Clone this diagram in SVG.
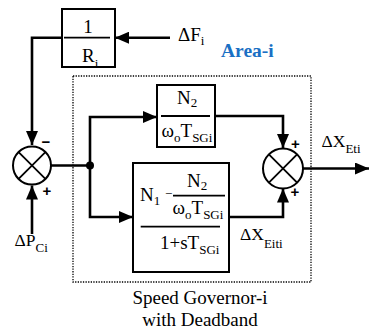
<svg xmlns="http://www.w3.org/2000/svg" width="369" height="331" viewBox="0 0 369 331">
<style>
.box{fill:#fff;stroke:#000;stroke-width:2}
.ln{fill:none;stroke:#000;stroke-width:2.6}
.fl{stroke:#000;stroke-width:1.8}
.t{font-family:'Liberation Serif','Times New Roman','DejaVu Serif',serif;font-size:19px;fill:#000}
.m{font-size:17.5px}
.s{font-size:13px}
.sg{font-family:'Liberation Sans',Arial,sans-serif;font-weight:bold;font-size:15px;fill:#000}
.sum{fill:#fff;stroke:#000;stroke-width:2}
.x{stroke:#000;stroke-width:1.8}
.area{font-family:'Liberation Serif','Times New Roman','DejaVu Serif',serif;font-weight:bold;font-size:19.5px;fill:#1a6fc4}
</style>
<defs>
<marker id="ah" viewBox="0 0 14 12" refX="14" refY="6" markerWidth="14" markerHeight="12" markerUnits="userSpaceOnUse" orient="auto">
<path d="M0,0 L14,6 L0,12 Z" fill="#000"/>
</marker>
</defs>
<rect x="73" y="76" width="238" height="206" fill="none" stroke="#000" stroke-width="1.3" stroke-dasharray="1.3 1.3"/>
<g id="connectors">
<path class="ln" d="M170,37.7 H115" marker-end="url(#ah)"/>
<path class="ln" d="M62,37.7 H32 V145" marker-end="url(#ah)"/>
<path class="ln" d="M32,234 V185.5" marker-end="url(#ah)"/>
<path class="ln" d="M51,165.5 H90"/>
<path class="ln" d="M90,165.5 V117 H157" marker-end="url(#ah)"/>
<path class="ln" d="M90,165.5 V217 H133" marker-end="url(#ah)"/>
<path class="ln" d="M215,116 H283 V148" marker-end="url(#ah)"/>
<path class="ln" d="M229,217 H283 V188.5" marker-end="url(#ah)"/>
<path class="ln" d="M303,168.5 H369" marker-end="url(#ah)"/>
<circle cx="90" cy="165.5" r="4" fill="#000"/>
</g>
<g id="gain-R">
<rect class="box" x="62" y="9" width="53" height="58"/>
<line class="fl" x1="64" y1="37.7" x2="110" y2="37.7"/>
<text class="t" x="88" y="33" text-anchor="middle">1</text>
<text class="t" x="82" y="62">R<tspan class="s" dy="5.5">i</tspan></text>
</g>
<g id="sum-left">
<circle class="sum" cx="32" cy="165.5" r="19"/>
<line class="x" x1="18.6" y1="152.1" x2="45.4" y2="178.9"/>
<line class="x" x1="45.4" y1="152.1" x2="18.6" y2="178.9"/>
<text class="sg" x="46" y="147" text-anchor="middle">−</text>
<text class="sg" x="47" y="196" text-anchor="middle">+</text>
</g>
<g id="block-top">
<rect class="box" x="157" y="85" width="58" height="62"/>
<line class="fl" x1="161" y1="116" x2="210" y2="116"/>
<text class="t" x="177" y="103.5">N<tspan class="s" dy="3">2</tspan></text>
<text class="t" x="161.5" y="137">ω<tspan class="s" dy="5">o</tspan><tspan dy="-5">T</tspan><tspan class="s" dy="5">SGi</tspan></text>
</g>
<g id="block-bottom">
<rect class="box" x="133" y="163" width="96" height="109"/>
<text class="t" x="140" y="200.5">N<tspan class="s" dy="4">1</tspan></text>
<text class="t" x="165" y="198" style="font-size:13px">−</text>
<text class="t" x="187" y="187">N<tspan class="s" dy="3">2</tspan></text>
<line class="fl" x1="173" y1="195.7" x2="225" y2="195.7"/>
<text class="t" x="172.5" y="214">ω<tspan class="s" dy="5">o</tspan><tspan dy="-5">T</tspan><tspan class="s" dy="5">SGi</tspan></text>
<line class="fl" x1="140.7" y1="226.7" x2="220" y2="226.7"/>
<text class="t" x="160" y="249.3">1+sT<tspan class="s" dy="5">SGi</tspan></text>
</g>
<g id="sum-right">
<circle class="sum" cx="283" cy="168.5" r="20"/>
<line class="x" x1="268.9" y1="154.4" x2="297.1" y2="182.6"/>
<line class="x" x1="297.1" y1="154.4" x2="268.9" y2="182.6"/>
<text class="sg" x="295.5" y="149" text-anchor="middle">+</text>
<text class="sg" x="295" y="197" text-anchor="middle">+</text>
</g>
<g id="labels">
<text class="t" x="178" y="41">ΔF<tspan class="s" dy="3.5">i</tspan></text>
<text class="area" x="221" y="57.3">Area-i</text>
<text class="t m" x="14.5" y="246">ΔP<tspan class="s" dy="6">Ci</tspan></text>
<text class="t m" x="240" y="240">ΔX<tspan class="s" dy="8">Eiti</tspan></text>
<text class="t m" x="321.5" y="146.7">ΔX<tspan class="s" dy="6">Eti</tspan></text>
<text class="t" x="200" y="304.3" text-anchor="middle">Speed Governor-i</text>
<text class="t" x="200" y="325.5" text-anchor="middle">with Deadband</text>
</g>
</svg>
